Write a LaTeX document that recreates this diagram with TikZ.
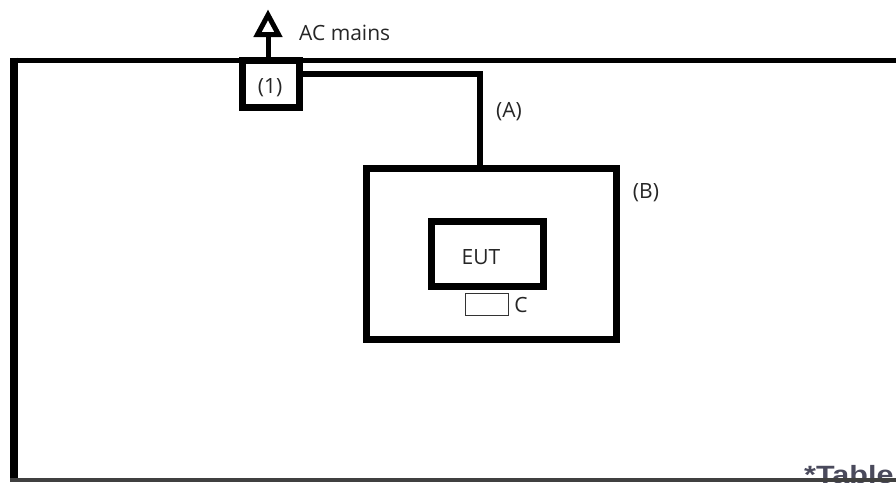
\documentclass[tikz,border=0pt]{standalone}
\usepackage{fontspec}
\setmainfont{Open Sans}
\newfontfamily\tblfont{Liberation Sans}
\usetikzlibrary{calc}
\definecolor{tblgray}{HTML}{4A4A5C}
\begin{document}
\begin{tikzpicture}[x=1pt,y=-1pt,
  thickbox/.style={draw=black,line width=7pt,minimum width=#1,inner sep=0pt,rectangle},
  lbl/.style={font=\fontsize{21}{25}\selectfont,text=black!85,inner sep=0pt,anchor=center},
  wire/.style={line width=6pt,line join=miter}]
\useasboundingbox (0,0) rectangle (896,482);
\clip (0,0) rectangle (896,482);
\fill[white] (0,0) rectangle (896,482);
% Table note (partly hidden by the bottom edge)
\node[font=\tblfont\bfseries\fontsize{25}{28}\selectfont,text=tblgray,anchor=base west,inner sep=0pt] (tbl) at (804,483) {\scalebox{1.22}[1]{*Table}};
% outer room outline
\draw[line width=5pt] (900,60) -- (10,60);
\draw[line width=8pt] (13.5,57.5) -- (13.5,482);
\draw[line width=4pt,black!75] (10,480) -- (900,480);
% mains box (1)
\node[thickbox=57pt,minimum height=47pt] (one) at (271,84) {};
\node[lbl] (onelbl) at (270,88) {(1)};
% AC mains arrow
\coordinate (acbase) at (268,34.5);
\draw[line width=5pt] (one.north -| acbase) -- (acbase);
\draw[line width=5pt,line join=miter] (257.5,34.5) -- (268,15) -- (278.5,34.5) -- cycle;
\node[lbl,anchor=west] (aclbl) at (299,33) {AC mains};
% box B
\node[thickbox=250pt,minimum height=171pt] (B) at (491.5,254) {};
\node[lbl] (Blbl) at (646,193) {(B)};
% cable A
\coordinate (ca) at (480,73.5);
\draw[wire] (one.east |- ca) -- (ca) -- (ca |- B.north);
\node[lbl] (Albl) at (509,112) {(A)};
% EUT
\node[thickbox=112pt,minimum height=65pt] (eut) at (487.5,254) {};
\node[lbl] (eutlbl) at (481,257) {EUT};
% C
\node[draw=black!80,line width=1.3pt,rectangle,minimum width=43pt,minimum height=22.5pt,inner sep=0pt] (c) at (487,304.5) {};
\node[lbl] (clbl) at (521,305) {C};
\end{tikzpicture}
\end{document}
